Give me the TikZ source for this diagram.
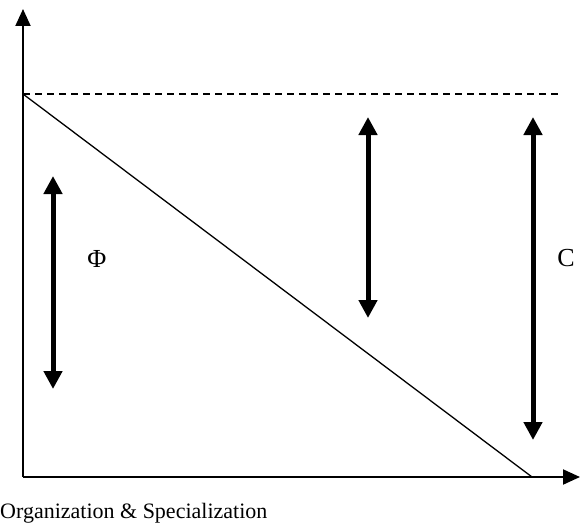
\documentclass[tikz,border=0pt]{standalone}
\usepackage{tikz}
\usepackage{fontspec}
\setmainfont{Liberation Serif}
\usetikzlibrary{arrows.meta}

\begin{document}
\begin{tikzpicture}[
  x=1pt, y=-1pt,
  axis/.style={line width=2pt, -{Triangle[width=15pt,length=17pt]}},
  gap/.style={line width=5pt, {Triangle[width=18pt,length=18pt]}-{Triangle[width=18pt,length=18pt]}},
  lbl/.style={font=\fontsize{26}{30}\selectfont, inner sep=0pt}
]
\useasboundingbox (0,0) rectangle (586,527);

% Axes
\coordinate (origin) at (23,477);
\coordinate (ytip) at (23,9);
\coordinate (xtip) at (580,477);
\draw[axis] (origin) -- (ytip);
\draw[axis] (origin) -- (xtip);

% Dashed level and falling line
\coordinate (top) at (23,94);
\coordinate (dashend) at (562,94);
\coordinate (foot) at (532,477);
\draw[line width=1.3pt, dashed, dash pattern=on 7pt off 5pt] (top) -- (dashend);
\draw[line width=1.3pt] (top) -- (foot);

% Double arrows
\coordinate (phitop) at (53,176);
\coordinate (phibot) at (53,389);
\coordinate (midtop) at (368,117);
\coordinate (midbot) at (368,318);
\coordinate (ctop) at (533,117);
\coordinate (cbot) at (533,440);
\draw[gap] (phitop) -- (phibot);
\draw[gap] (midtop) -- (midbot);
\draw[gap] (ctop) -- (cbot);

% Labels
\node[lbl] (phi) at (97,259) {Φ};
\node[lbl] (c) at (566,258) {C};
\node[lbl, anchor=base west, font=\fontsize{22}{26}\selectfont] (xlabel) at (0,518) {Organization \& Specialization};

\end{tikzpicture}
\end{document}
